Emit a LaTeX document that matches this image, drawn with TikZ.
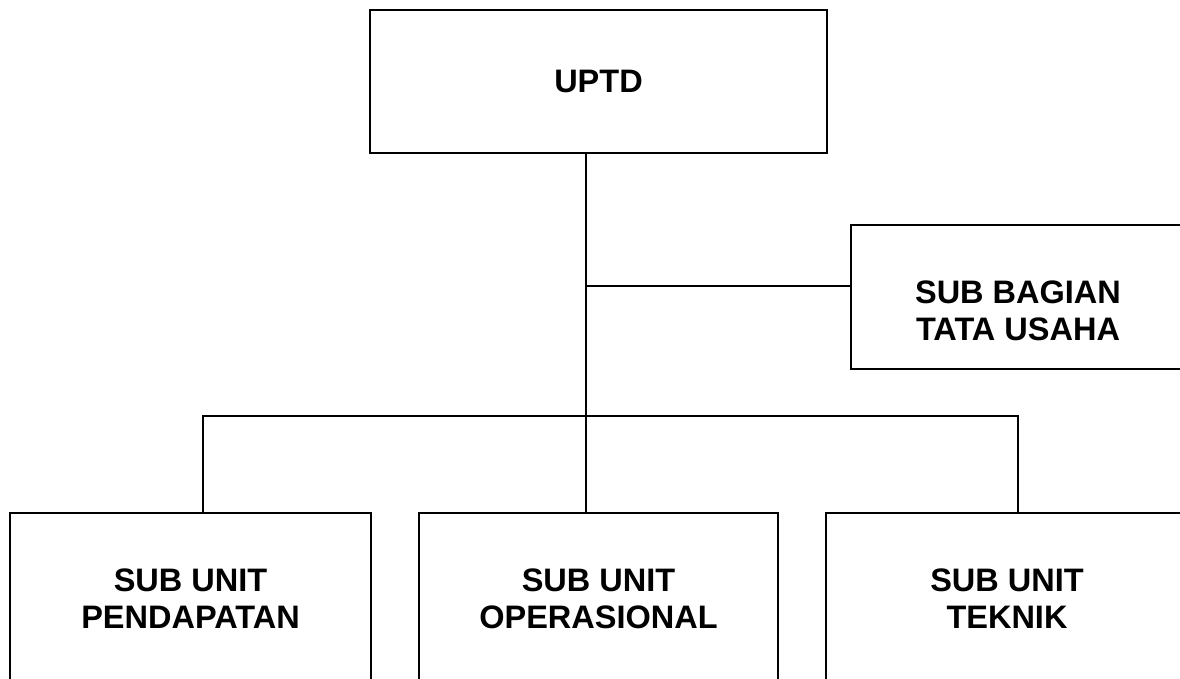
\documentclass[tikz,border=0pt]{standalone}
\usepackage{fontspec}
\setmainfont{Liberation Sans}
\begin{document}
\begin{tikzpicture}[x=1pt,y=-1pt,
  box/.style={draw=black, line width=1.7pt, rectangle, inner sep=0pt, outer sep=0pt,
    align=center, font=\fontsize{32.5}{37}\selectfont\bfseries},
  lbl/.style={inner sep=0pt, align=center, font=\fontsize{32.5}{37}\selectfont\bfseries},
  conn/.style={draw=black, line width=1.7pt}]
\useasboundingbox (0,0) rectangle (1180,678);
\clip (0,0) rectangle (1180,678);
\fill[white] (0,0) rectangle (1180,678);
% boxes
\node[box, minimum width=457pt, minimum height=143pt] (uptd) at (598.5,81.5) {UPTD};
\node[box, minimum width=340pt, minimum height=144pt] (tu) at (1021,297) {};
\node[lbl] (tutext) at (1018,311) {SUB BAGIAN\\TATA USAHA};
\node[box, minimum width=361pt, minimum height=172pt] (left) at (190.5,599) {SUB UNIT\\PENDAPATAN};
\node[box, minimum width=359pt, minimum height=172pt] (mid) at (598.5,599) {SUB UNIT\\OPERASIONAL};
\node[box, minimum width=362pt, minimum height=172pt] (right) at (1007,599) {SUB UNIT\\TEKNIK};
% junctions
\coordinate (trunk) at (586,0);
\coordinate (j1) at (586,286);
\coordinate (dl) at (203,416);
\coordinate (dr) at (1018,416);
% connectors
\draw[conn] (trunk |- uptd.south) -- (trunk |- mid.north);
\draw[conn] (j1) -- (j1 -| tu.west);
\draw[conn] (dl |- left.north) -- (dl) -- (dr) -- (dr |- right.north);
\end{tikzpicture}
\end{document}
